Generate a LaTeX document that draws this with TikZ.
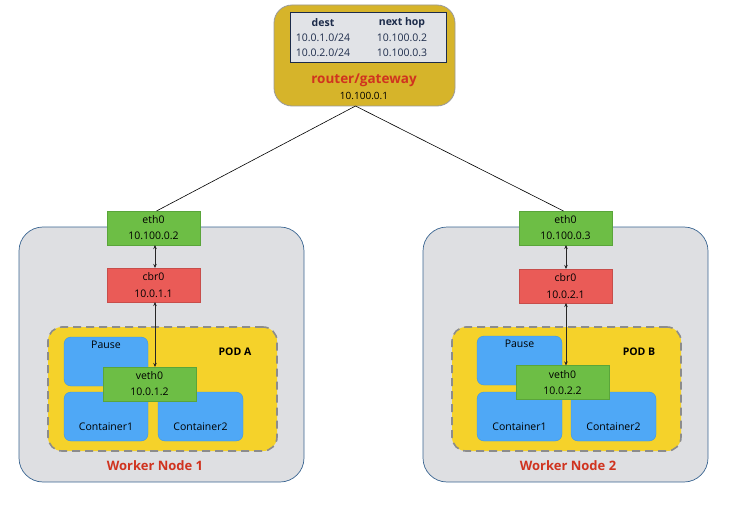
\documentclass[tikz,border=0pt]{standalone}
\usepackage{fontspec}
\setmainfont{Open Sans}
\usetikzlibrary{arrows.meta}
\definecolor{nodegrey}{HTML}{DEDFE2}
\definecolor{nodeborder}{HTML}{3A6591}
\definecolor{podyellow}{HTML}{F5D22A}
\definecolor{poddash}{HTML}{8C8C8C}
\definecolor{ctblue}{HTML}{4FA8F6}
\definecolor{ctborder}{HTML}{3F95E0}
\definecolor{ifgreen}{HTML}{6DBE45}
\definecolor{ifborder}{HTML}{5AA53A}
\definecolor{brred}{HTML}{EA5B57}
\definecolor{routergold}{HTML}{D6B42A}
\definecolor{routerborder}{HTML}{9A9A9A}
\definecolor{labelred}{HTML}{D0331F}
\definecolor{tablenavy}{HTML}{1C2B4A}
\definecolor{tablefill}{HTML}{E1E3E7}
\tikzset{
  boxbase/.style={inner sep=0pt, outer sep=0pt},
  workerbox/.style={boxbase, fill=nodegrey, draw=nodeborder, line width=0.7pt, rounded corners=24pt, minimum width=285pt, minimum height=255pt},
  podbox/.style={boxbase, fill=podyellow, draw=poddash, line width=1.6pt, dash pattern=on 8pt off 5pt, rounded corners=14pt, minimum width=229pt, minimum height=124pt},
  ctbox/.style={boxbase, fill=ctblue, draw=ctborder, line width=0.4pt, rounded corners=7pt, minimum height=49pt},
  ifbox/.style={boxbase, fill=ifgreen, draw=ifborder, line width=0.4pt, minimum width=93pt, minimum height=34pt, align=center, font=\fontsize{10.5}{16}\selectfont},
  brbox/.style={boxbase, fill=brred, draw=brred!85!black, line width=0.4pt, minimum width=93pt, minimum height=34pt, align=center, font=\fontsize{10.5}{17}\selectfont},
  txt/.style={inner sep=0pt, font=\fontsize{10.5}{12}\selectfont},
  worklabel/.style={inner sep=0pt, text=labelred, font=\fontsize{13}{15}\selectfont\bfseries},
  podlabel/.style={inner sep=0pt, font=\fontsize{10.5}{12}\selectfont\bfseries},
  tabtxt/.style={inner sep=0pt, text=tablenavy, font=\fontsize{10.5}{12}\selectfont},
  link/.style={draw=black, line width=0.6pt},
  dbl/.style={draw=black!85, line width=0.8pt, {Stealth[length=4pt,width=3.5pt]}-{Stealth[length=4pt,width=3.5pt]}}
}
\begin{document}
\begin{tikzpicture}[x=1pt,y=-1pt]
\path[use as bounding box] (0,0) rectangle (729,511);

% router
\node[boxbase, fill=routergold, draw=routerborder, line width=0.8pt, rounded corners=18pt, minimum width=181pt, minimum height=101pt] (router) at (364.5,55.5) {};
\node[boxbase, fill=tablefill, draw=tablenavy, line width=1pt, minimum width=156pt, minimum height=50pt] (table) at (368,38) {};
\node[tabtxt, font=\fontsize{10.5}{12}\selectfont\bfseries] (hdest) at (323,23) {dest};
\node[tabtxt, font=\fontsize{10.5}{12}\selectfont\bfseries] (hhop) at (402,23) {next hop};
\node[tabtxt] (r1a) at (323,38) {10.0.1.0/24};
\node[tabtxt] (r1b) at (402,38) {10.100.0.2};
\node[tabtxt] (r2a) at (323,53) {10.0.2.0/24};
\node[tabtxt] (r2b) at (402,53) {10.100.0.3};
\node[inner sep=0pt, text=labelred, font=\fontsize{13.5}{15}\selectfont\bfseries] (rname) at (364,80) {router/gateway};
\node[txt, font=\fontsize{10}{12}\selectfont] (rip) at (364,96) {10.100.0.1};
\coordinate (rt) at ([xshift=-9pt]router.south);

% Worker node 1
\node[workerbox] (workerL) at (161.5,354.5) {};
\node[podbox] (podL) at (162.5,389) {};
\node[ctbox, minimum width=84pt] (pauseL) at (106,361.5) {};
\node[ctbox, minimum width=84pt] (c1L) at (106,416.5) {};
\node[ctbox, minimum width=85pt] (c2L) at (200.5,416.5) {};
\node[txt] (pauseLt) at (106,345) {Pause};
\node[txt] (c1Lt) at (106,427) {Container1};
\node[txt] (c2Lt) at (200.5,427) {Container2};
\node[podlabel] (podLt) at (235,352) {POD A};
\node[ifbox] (veth0L) at (149.5,384) {veth0\\10.0.1.2};
\node[ifbox] (eth0L) at (153.5,228) {eth0\\10.100.0.2};
\node[brbox] (cbr0L) at (153.5,285) {cbr0\\10.0.1.1};
\node[worklabel] (wLt) at (155,466) {Worker Node 1};
\draw[dbl] ([xshift=1.5pt]eth0L.south) -- ([xshift=1.5pt]cbr0L.north);
\draw[dbl] ([xshift=1.5pt]cbr0L.south) -- ([xshift=1.5pt]cbr0L.south |- veth0L.north);

% Worker node 2
\node[workerbox] (workerR) at (565.5,354.5) {};
\node[podbox] (podR) at (566.5,389) {};
\node[ctbox, minimum width=85pt] (pauseR) at (519.5,360.5) {};
\node[ctbox, minimum width=85pt] (c1R) at (519.5,416.5) {};
\node[ctbox, minimum width=85pt] (c2R) at (613.5,416.5) {};
\node[txt] (pauseRt) at (519.5,344) {Pause};
\node[txt] (c1Rt) at (519.5,427) {Container1};
\node[txt] (c2Rt) at (613.5,427) {Container2};
\node[podlabel] (podRt) at (639,352) {POD B};
\node[ifbox] (veth0R) at (562.5,382.5) {veth0\\10.0.2.2};
\node[ifbox] (eth0R) at (565.5,228) {eth0\\10.100.0.3};
\node[brbox] (cbr0R) at (565.5,286) {cbr0\\10.0.2.1};
\node[worklabel] (wRt) at (568,466) {Worker Node 2};
\draw[dbl] ([xshift=0.5pt]eth0R.south) -- ([xshift=0.5pt]cbr0R.north);
\draw[dbl] ([xshift=0.5pt]cbr0R.south) -- ([xshift=0.5pt]cbr0R.south |- veth0R.north);

% links to router
\draw[link] (rt) -- ([xshift=3pt]eth0L.north);
\draw[link] (rt) -- ([xshift=-2pt]eth0R.north);
\end{tikzpicture}
\end{document}
